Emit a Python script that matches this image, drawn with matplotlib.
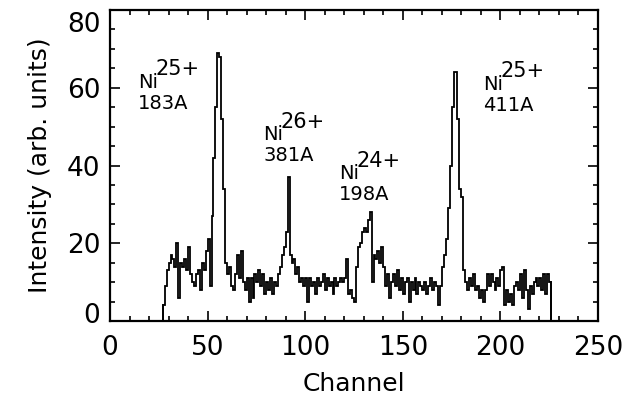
import matplotlib
matplotlib.use("Agg")
import matplotlib.pyplot as plt
import matplotlib.transforms as mtransforms
import numpy as np

# Histogram data: channel edges start at 27, one value per channel
first_channel = 27
counts = [
    4, 9, 13, 15, 17, 16, 14, 20, 6, 15,          # 27-36
    14, 16, 13, 19, 12, 10, 9, 12, 13, 8,         # 37-46
    15, 13, 18, 21, 9, 27, 42, 55, 69, 68,        # 47-56
    52, 34, 15, 12, 14, 9, 8, 12, 17, 11,         # 57-66
    18, 10, 8, 11, 5, 11, 6, 12, 10, 13,          # 67-76
    9, 12, 7, 10, 8, 11, 7, 10, 9, 12,            # 77-86
    14, 17, 19, 23, 37, 17, 15, 16, 12, 14,       # 87-96
    10, 11, 9, 11, 5, 11, 9, 10, 7, 11,           # 97-106
    9, 10, 12, 8, 11, 9, 10, 7, 11, 9,            # 107-116
    10, 11, 10, 11, 16, 7, 8, 6, 5, 14,           # 117-126
    19, 20, 23, 24, 23, 26, 28, 10, 17, 16,       # 127-136
    18, 15, 19, 14, 9, 12, 6, 10, 12, 9,          # 137-146
    13, 8, 11, 7, 10, 11, 5, 10, 8, 11,           # 147-156
    7, 10, 9, 8, 10, 7, 9, 11, 8, 10,             # 157-166
    9, 4, 9, 14, 17, 21, 29, 40, 55, 64,          # 167-176
    64, 52, 34, 32, 13, 10, 8, 11, 9, 12,         # 177-186
    8, 9, 6, 8, 5, 8, 12, 9, 12, 10,              # 187-196
    8, 11, 9, 13, 14, 4, 8, 5, 7, 4,              # 197-206
    9, 10, 8, 12, 6, 13, 8, 3, 9, 7,              # 207-216
    10, 11, 9, 11, 8, 12, 7, 12, 10,              # 217-225
]

labels = [
    ("25+", "183A", 14.5, 60.0),
    ("26+", "381A", 78.5, 46.5),
    ("24+", "198A", 117.5, 36.5),
    ("25+", "411A", 191.0, 59.5),
]

fig = plt.figure(figsize=(6.33, 4.0), dpi=100)
ax = fig.add_axes([0.1738, 0.1975, 0.7709, 0.7775])

edges = np.arange(first_channel, first_channel + len(counts) + 1)
ax.stairs(counts, edges, baseline=0, fill=False, color="black", linewidth=1.3)
ax.plot([edges[0], edges[0]], [0, counts[0]], color="black", lw=1.3)
ax.plot([edges[-1], edges[-1]], [0, counts[-1]], color="black", lw=1.3)

ax.set_xlim(0, 250)
ax.set_ylim(0, 80)
ax.set_xticks([0, 50, 100, 150, 200, 250])
ax.set_yticks([0, 20, 40, 60, 80])
ax.set_xticks(np.arange(0, 251, 10), minor=True)
ax.set_yticks(np.arange(0, 81, 5), minor=True)
ax.tick_params(which="both", direction="in", top=True, right=True, width=1.2)
ax.tick_params(which="major", length=7)
ax.tick_params(which="minor", length=3.5)
ax.tick_params(axis="x", which="major", labelsize=19, pad=10)
ax.tick_params(axis="y", which="major", labelsize=19, pad=7)
for s in ax.spines.values():
    s.set_linewidth(1.6)

ax.set_xlabel("Channel", fontsize=18, labelpad=8)
ax.set_ylabel("Intensity (arb. units)", fontsize=18, labelpad=11)

for sup, sub, x, y in labels:
    ax.text(x, y, "Ni", fontsize=14, ha="left", va="baseline")
    ax.annotate(sup, xy=(x, y), xytext=(12.5, 9), textcoords="offset points",
                fontsize=15, ha="left", va="baseline")
    ax.annotate(sub, xy=(x, y), xytext=(0, -15), textcoords="offset points",
                fontsize=14, ha="left", va="baseline")

fig.canvas.draw()
ylabels = ax.get_yticklabels()
ylabels[0].set_transform(ylabels[0].get_transform() +
                         mtransforms.ScaledTranslation(0, 6 / 72, fig.dpi_scale_trans))
ylabels[-1].set_transform(ylabels[-1].get_transform() +
                          mtransforms.ScaledTranslation(0, -9 / 72, fig.dpi_scale_trans))

fig.savefig("out.png", dpi=100)
